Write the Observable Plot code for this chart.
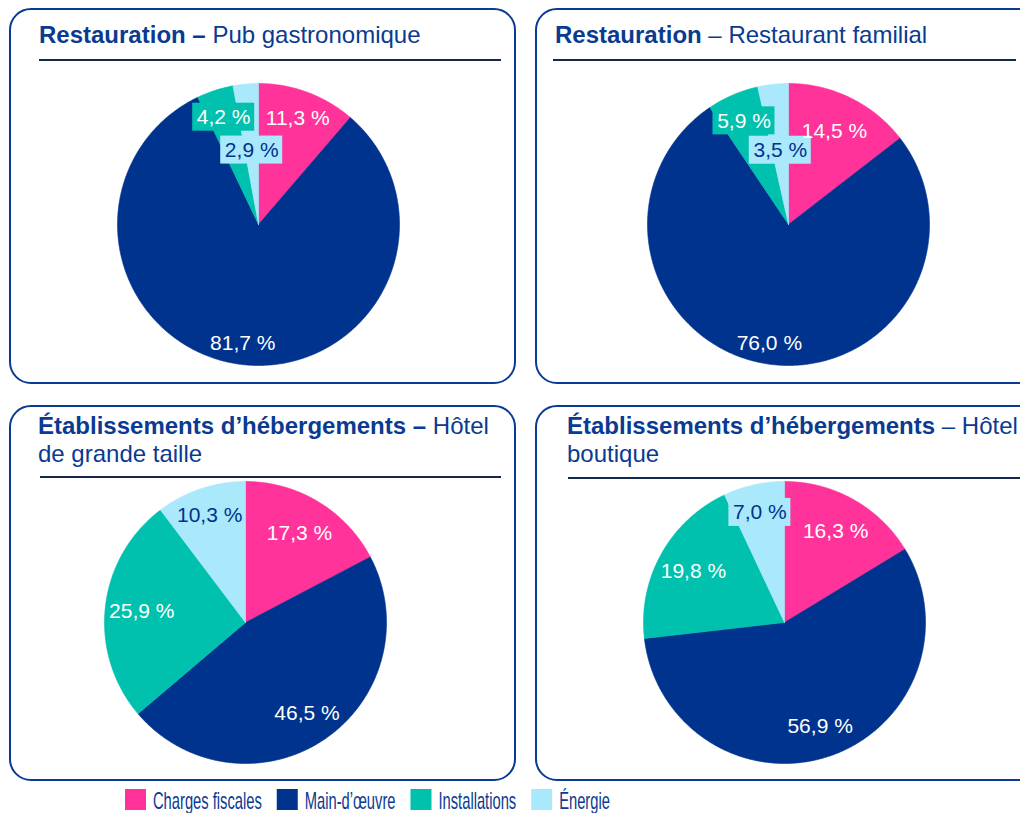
<!DOCTYPE html>
<html>
<head>
<meta charset="utf-8">
<script src="https://cdn.jsdelivr.net/npm/d3@7"></script>
<script src="https://cdn.jsdelivr.net/npm/@observablehq/plot@0.6"></script>
<style>
  html, body { margin: 0; padding: 0; background: #fff; overflow: hidden; }
  body { width: 1020px; height: 813px; position: relative; font-family: "Liberation Sans", Arial, sans-serif; }
  .box { position: absolute; box-sizing: border-box; border: 2.5px solid #0a3a91; border-radius: 22px; }
  .title { position: absolute; font-size: 24px; line-height: 28px; color: #0a3a91; white-space: nowrap; }
  .title .line { display: block; height: 28px; }
  .title b { font-weight: bold; }
  .rule { position: absolute; height: 2px; background: #14284b; }
  .pie { position: absolute; width: 300px; height: 300px; }
  #legend { position: absolute; left: 0; top: 780px; }
</style>
</head>
<body>
<div id="root"></div>
<svg id="legend" width="1020" height="33"></svg>
<script>
// ---- Data ----
const categories = ["Charges fiscales", "Main-d’œuvre", "Installations", "Énergie"];
const colors = ["#ff3399", "#00338d", "#00c1ae", "#aae8fc"];
const labelColors = ["#ffffff", "#ffffff", "#ffffff", "#00338d"];

const pubValues = [11.3, 81.7, 4.2, 2.9];
const familialValues = [14.5, 76.0, 5.9, 3.5];
const grandeValues = [17.3, 46.5, 25.9, 10.3];
const boutiqueValues = [16.3, 56.9, 19.8, 7.0];

// Title lines: each line is [bold part, regular part]
const pubTitle = [["Restauration –", "\u00a0Pub gastronomique"]];
const familialTitle = [["Restauration", "\u00a0– Restaurant familial"]];
const grandeTitle = [["Établissements d’hébergements –", "\u00a0Hôtel"], ["", "de grande taille"]];
const boutiqueTitle = [["Établissements d’hébergements", "\u00a0– Hôtel"], ["", "boutique"]];

// ---- Layout (panel frames) ----
const panels = [
  {values: pubValues, title: pubTitle, box: [9, 8, 507, 376], tpos: [39, 21], rule: [39, 59, 462], center: [258, 224]},
  {values: familialValues, title: familialTitle, box: [535, 8, 600, 376], tpos: [555, 21], rule: [553, 59, 463], center: [788, 224]},
  {values: grandeValues, title: grandeTitle, box: [9, 405, 507, 376], tpos: [38, 412], rule: [40, 476, 461], center: [245, 622]},
  {values: boutiqueValues, title: boutiqueTitle, box: [535, 405, 600, 376], tpos: [567, 412], rule: [568, 477, 452], center: [784, 622]}
];
const R = 141;
const root = document.getElementById("root");
const fmt = v => v.toFixed(1).replace(".", ",") + " %";

panels.forEach((p, i) => {
  const box = document.createElement("div");
  box.className = "box";
  Object.assign(box.style, {left: p.box[0] + "px", top: p.box[1] + "px", width: p.box[2] + "px", height: p.box[3] + "px"});
  root.appendChild(box);

  const t = document.createElement("div");
  t.className = "title";
  Object.assign(t.style, {left: p.tpos[0] + "px", top: p.tpos[1] + "px"});
  p.title.forEach(([bold, reg]) => {
    const line = document.createElement("span");
    line.className = "line";
    if (bold) {
      const b = document.createElement("b");
      b.textContent = bold;
      line.appendChild(b);
    }
    const s = document.createElement("span");
    s.textContent = reg;
    line.appendChild(s);
    t.appendChild(line);
  });
  root.appendChild(t);

  const r = document.createElement("div");
  r.className = "rule";
  Object.assign(r.style, {left: p.rule[0] + "px", top: p.rule[1] + "px", width: p.rule[2] + "px"});
  root.appendChild(r);

  // Pie geometry from values
  const arcs = d3.pie().sort(null).startAngle(0).endAngle(2 * Math.PI)(p.values);
  const poly = [];
  const labels = [];
  arcs.forEach((a, k) => {
    const cat = categories[k];
    poly.push({cat, x: 0, y: 0});
    const n = Math.max(2, Math.ceil((a.endAngle - a.startAngle) / 0.01));
    for (let j = 0; j <= n; j++) {
      const ang = a.startAngle + (a.endAngle - a.startAngle) * j / n;
      poly.push({cat, x: R * Math.sin(ang), y: -R * Math.cos(ang)});
    }
    poly.push({cat, x: 0, y: 0});
    const v = p.values[k];
    const mid = (a.startAngle + a.endAngle) / 2;
    const rf = v < 4 ? 0.53 : v < 12 ? 0.8 : v > 70 ? 0.85 : v > 40 ? 0.78 : 0.74;
    labels.push({
      cat, text: fmt(v), bg: v < 8,
      x: R * rf * Math.sin(mid), y: -R * rf * Math.cos(mid),
      ink: labelColors[k]
    });
  });
  const bgLabels = labels.filter(d => d.bg);

  const chart = Plot.plot({
    width: 300, height: 300,
    margin: 0,
    x: {domain: [-150, 150], axis: null},
    y: {domain: [150, -150], axis: null},
    color: {domain: categories, range: colors},
    style: {background: "transparent", overflow: "visible", fontFamily: "Liberation Sans, Arial, sans-serif"},
    marks: [
      Plot.line(poly, {x: "x", y: "y", z: "cat", fill: "cat", stroke: "cat", strokeWidth: 0.6, curve: "linear-closed"}),
      Plot.rect(bgLabels, {x1: d => d.x - 31, x2: d => d.x + 31, y1: d => d.y - 14, y2: d => d.y + 14, fill: "cat"}),
      Plot.text(labels, {x: "x", y: "y", text: "text", fill: d => d.ink, fontSize: 21})
    ]
  });
  chart.classList.add("pie");
  chart.style.left = (p.center[0] - 150) + "px";
  chart.style.top = (p.center[1] - 150) + "px";
  chart.style.position = "absolute";
  root.appendChild(chart);
});

// ---- Legend ----
const svg = d3.select("#legend");
const squeeze = 0.64;
let cx = 125;
categories.forEach((c, k) => {
  svg.append("rect").attr("x", cx).attr("y", 9).attr("width", 21).attr("height", 21).attr("fill", colors[k]);
  const g = svg.append("g").attr("transform", `translate(${cx + 28},29) scale(${squeeze},1)`);
  const txt = g.append("text").attr("x", 0).attr("y", 0)
    .attr("font-family", "Liberation Sans, Arial, sans-serif").attr("font-size", 23)
    .attr("fill", "#0a3a91").text(c);
  const len = txt.node().getComputedTextLength() * squeeze;
  cx = cx + 28 + len + 15;
});
</script>
</body>
</html>
